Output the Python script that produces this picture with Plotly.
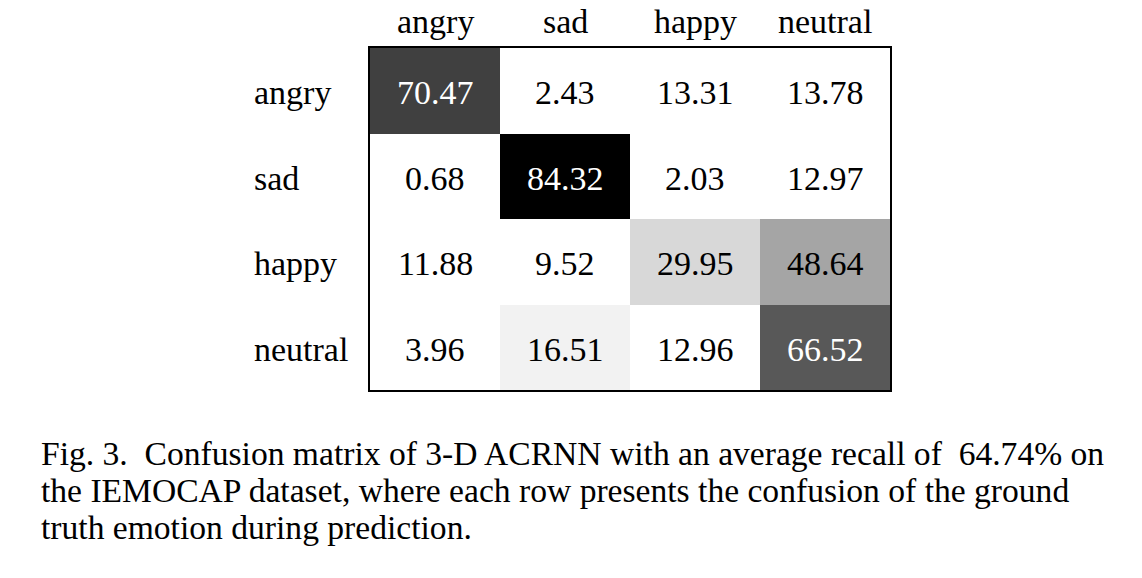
import plotly.graph_objects as go

classes = ["angry", "sad", "happy", "neutral"]
row_angry = [70.47, 2.43, 13.31, 13.78]
row_sad = [0.68, 84.32, 2.03, 12.97]
row_happy = [11.88, 9.52, 29.95, 48.64]
row_neutral = [3.96, 16.51, 12.96, 66.52]
matrix = [row_angry, row_sad, row_happy, row_neutral]

caption_lines = [
    "Fig. 3.  Confusion matrix of 3-D ACRNN with an average recall of  64.74% on",
    "the IEMOCAP dataset, where each row presents the confusion of the ground",
    "truth emotion during prediction.",
]

zmax = 84.32
colorscale = [
    [0.0, "#ffffff"],
    [14.0 / zmax, "#ffffff"],
    [16.51 / zmax, "#f2f2f2"],
    [29.95 / zmax, "#d8d8d8"],
    [48.64 / zmax, "#a5a5a5"],
    [66.52 / zmax, "#585858"],
    [70.47 / zmax, "#404040"],
    [1.0, "#000000"],
]

font_family = "Liberation Serif"
fs = 34

fig = go.Figure(
    go.Heatmap(
        z=matrix,
        x=classes,
        y=classes,
        zmin=0,
        zmax=zmax,
        colorscale=colorscale,
        showscale=False,
        hoverinfo="skip",
    )
)

annotations = []
for i, row in enumerate(matrix):
    for j, v in enumerate(row):
        annotations.append(dict(
            x=classes[j], y=classes[i], xref="x", yref="y",
            text=f"{v:.2f}", showarrow=False, yshift=-2,
            font=dict(family=font_family, size=fs,
                      color="white" if v > 60 else "black"),
        ))

for c in classes:
    annotations.append(dict(
        x=-0.227, y=c, xref="paper", yref="y", xanchor="left",
        text=c, showarrow=False, yshift=-2,
        font=dict(family=font_family, size=fs, color="black"),
    ))
    annotations.append(dict(
        x=c, y=1, xref="x", yref="paper", yanchor="bottom",
        text=c, showarrow=False, yshift=6,
        font=dict(family=font_family, size=fs, color="black"),
    ))

for k, line in enumerate(caption_lines):
    annotations.append(dict(
        x=-0.636, y=-0.187 - k * 0.107, xref="paper", yref="paper",
        xanchor="left", yanchor="middle", text=line, showarrow=False,
        font=dict(family=font_family, size=33.6, color="black"),
    ))

fig.update_layout(
    width=1142, height=578,
    margin=dict(l=370, r=252, t=48, b=188),
    paper_bgcolor="white", plot_bgcolor="white",
    annotations=annotations,
    xaxis=dict(showgrid=False, zeroline=False, ticks="", showticklabels=False,
               automargin=False,
               showline=True, mirror=True, linecolor="black", linewidth=2),
    yaxis=dict(autorange="reversed", showgrid=False, zeroline=False, ticks="",
               showticklabels=False, automargin=False,
               showline=True, mirror=True, linecolor="black", linewidth=2),
)

fig.write_html("out.html")
